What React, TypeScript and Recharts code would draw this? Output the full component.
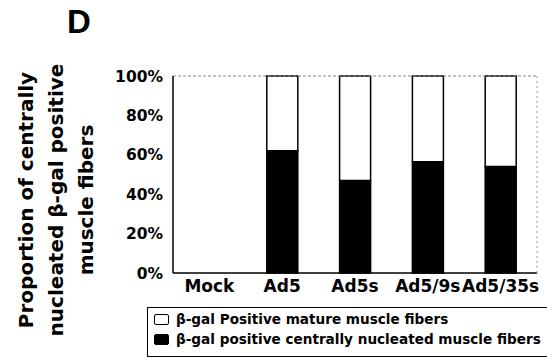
import { BarChart, Bar, XAxis, YAxis, ReferenceLine, Legend } from 'recharts';

const groups = ['Mock', 'Ad5', 'Ad5s', 'Ad5/9s', 'Ad5/35s'];
const centrallyNucleated = [0, 62, 47, 56.5, 54];
const matureFibers = [0, 38, 53, 43.5, 46];
const percentTicks = [0, 20, 40, 60, 80, 100];

const seriesNames = {
  mature: 'β-gal Positive mature muscle fibers',
  central: 'β-gal positive centrally nucleated muscle fibers',
};

const data = groups.map((name, i) => ({
  name,
  central: centrallyNucleated[i],
  mature: matureFibers[i],
}));

const font = '"DejaVu Sans", Arial, sans-serif';

const LegendBox = () => (
  <div
    style={{
      boxSizing: 'border-box',
      width: 402,
      border: '1.5px solid #000',
      padding: '1px 6px 7px 6px',
      fontFamily: font,
      fontWeight: 700,
      fontSize: 13.6,
      lineHeight: '20px',
      color: '#000',
      whiteSpace: 'nowrap',
    }}
  >
    {(['mature', 'central'] as const).map((key) => (
      <div key={key} style={{ display: 'flex', alignItems: 'center' }}>
        <span
          style={{
            display: 'inline-block',
            width: 13,
            height: 9,
            border: '1.5px solid #000',
            borderRadius: 2,
            background: key === 'central' ? '#000' : '#fff',
            marginRight: 7,
          }}
        />
        {seriesNames[key]}
      </div>
    ))}
  </div>
);

export default function App() {
  return (
    <div style={{ position: 'absolute', left: 0, top: 0, width: 547, height: 360, background: '#fff', overflow: 'hidden' }}>
      <div
        style={{
          position: 'absolute',
          left: 67,
          top: 4,
          fontFamily: '"Liberation Sans", Arial, sans-serif',
          fontWeight: 700,
          fontSize: 33,
          lineHeight: '36px',
          color: '#000',
        }}
      >
        D
      </div>
      <div
        style={{
          position: 'absolute',
          left: 57 - 150,
          top: 200 - 46,
          width: 300,
          height: 92,
          transform: 'rotate(-90deg)',
          fontFamily: font,
          fontWeight: 700,
          fontSize: 20,
          lineHeight: '30px',
          textAlign: 'center',
          color: '#000',
        }}
      >
        Proportion of centrally
        <br />
        nucleated β-gal positive
        <br />
        muscle fibers
      </div>
      <BarChart
        width={547}
        height={360}
        data={data}
        margin={{ top: 76, right: 9, left: 113, bottom: 57 }}
        style={{ position: 'absolute', left: 0, top: 0 }}
      >
        <XAxis
          dataKey="name"
          axisLine={{ stroke: '#000', strokeWidth: 1.5 }}
          tickLine={false}
          tickSize={0}
          tickMargin={7}
          height={30}
          tick={{ fill: '#000', fontFamily: font, fontWeight: 700, fontSize: 17 }}
        />
        <YAxis
          domain={[0, 100]}
          ticks={percentTicks}
          tickFormatter={(v) => `${v}%`}
          width={60}
          axisLine={{ stroke: '#000', strokeWidth: 1.5 }}
          tickLine={false}
          tickSize={8}
          tickMargin={2}
          tick={{ fill: '#000', fontFamily: font, fontWeight: 700, fontSize: 15.5 }}
        />
        <YAxis
          yAxisId="right"
          orientation="right"
          domain={[0, 100]}
          width={1}
          tick={false}
          tickLine={false}
          axisLine={{ stroke: '#999', strokeWidth: 1, strokeDasharray: '2 3' }}
        />
        <ReferenceLine y={100} stroke="#888" strokeWidth={1} strokeDasharray="3 2" />
        <Legend
          layout="horizontal"
          verticalAlign="middle"
          align="center"
          wrapperStyle={{ left: 147, top: 307, width: 402 }}
          content={() => <LegendBox />}
        />
        <Bar
          dataKey="central"
          name={seriesNames.central}
          stackId="a"
          barSize={31}
          fill="#000"
          stroke="#000"
          strokeWidth={1.5}
          isAnimationActive={false}
        />
        <Bar
          dataKey="mature"
          name={seriesNames.mature}
          stackId="a"
          barSize={31}
          fill="#fff"
          stroke="#000"
          strokeWidth={1.5}
          isAnimationActive={false}
        />
      </BarChart>
    </div>
  );
}
